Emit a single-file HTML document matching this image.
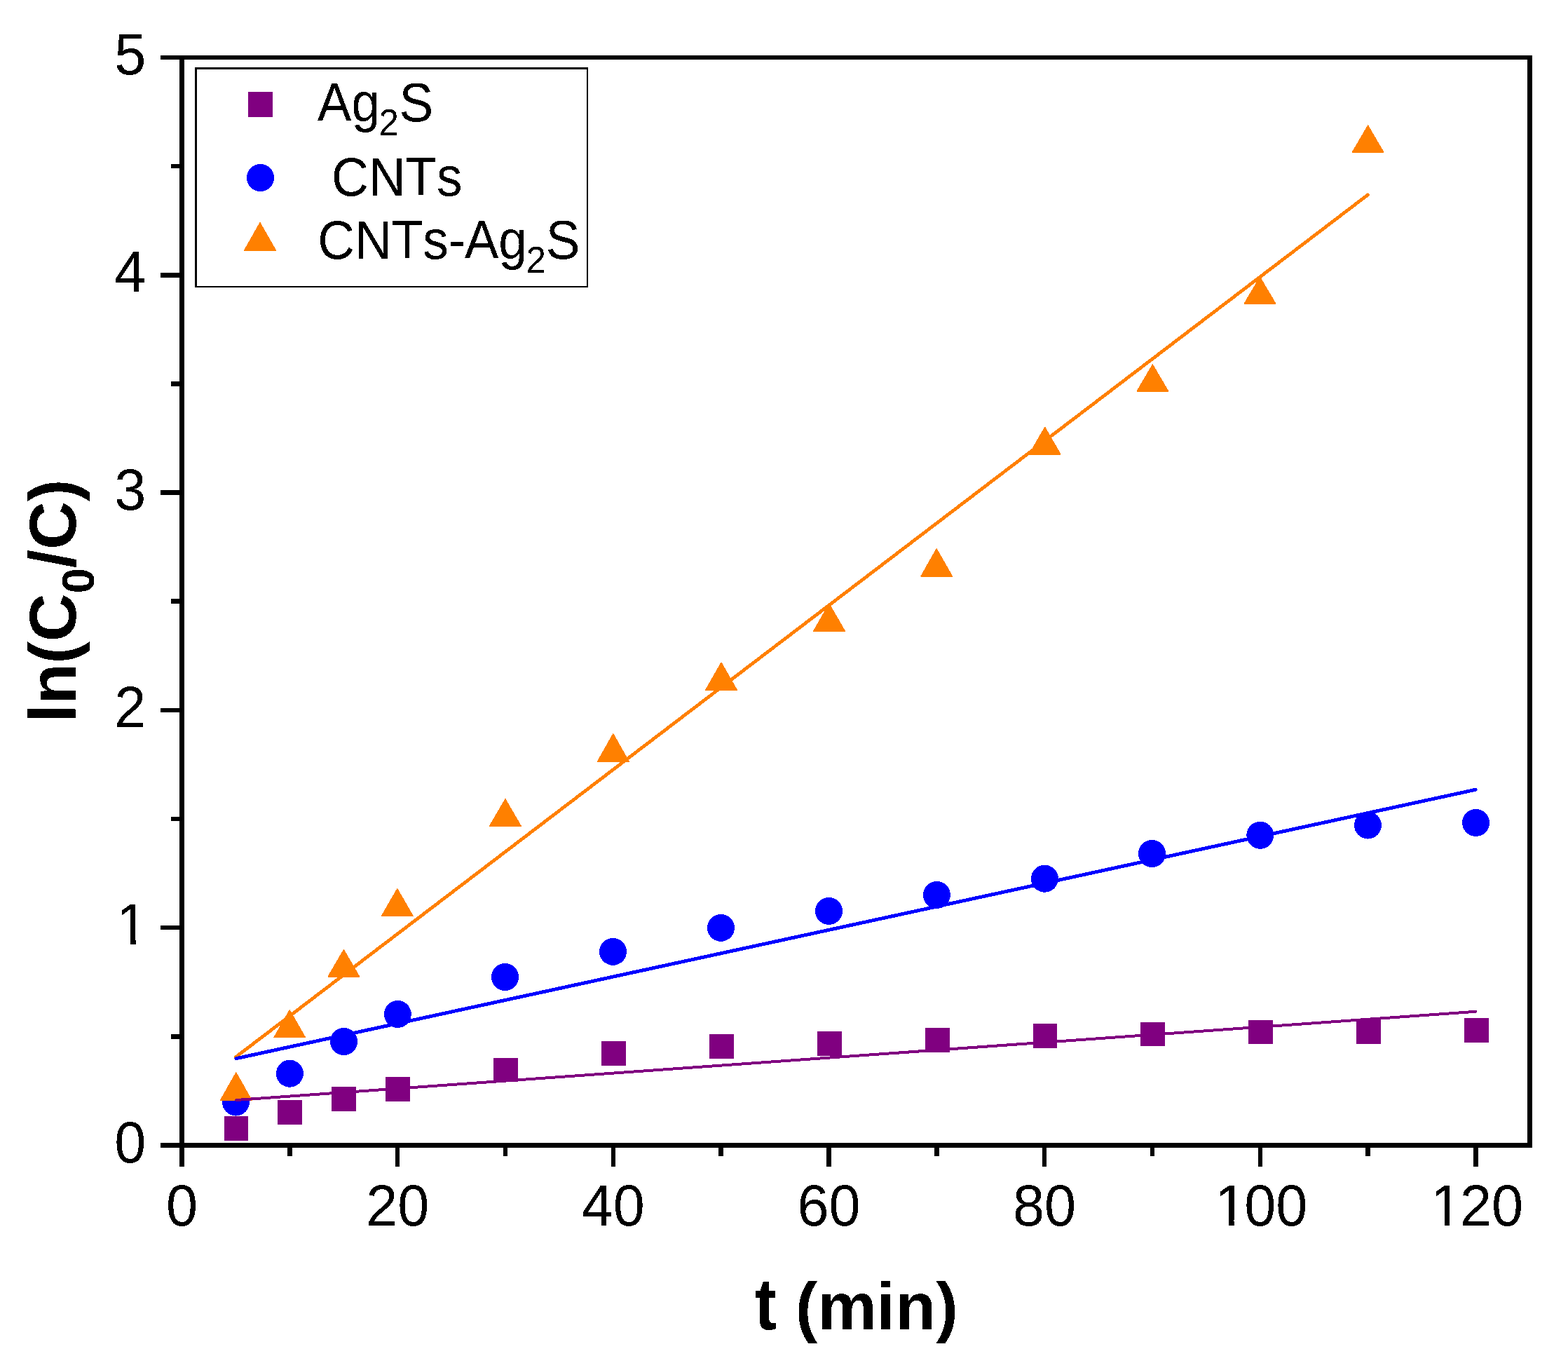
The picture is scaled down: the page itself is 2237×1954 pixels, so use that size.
<!DOCTYPE html>
<html><head><meta charset="utf-8"><title>ln(C0/C) vs t</title>
<style>html,body{margin:0;padding:0;background:#fff;}svg{display:block;}</style></head>
<body>
<svg width="2237" height="1954" viewBox="0 0 2237 1954">
<defs><filter id="bin" x="-5%" y="-5%" width="110%" height="110%" color-interpolation-filters="sRGB"><feComponentTransfer><feFuncA type="discrete" tableValues="0 1"/></feComponentTransfer></filter></defs>
<rect width="2237" height="1954" fill="#fff"/>
<g id="sq" fill="#800080" shape-rendering="crispEdges">
<rect x="319.7" y="1592.1" width="34.6" height="34.8"/>
<rect x="396.2" y="1569.2" width="34.6" height="34.8"/>
<rect x="473.1" y="1550.0" width="34.6" height="34.8"/>
<rect x="550.2" y="1536.0" width="34.6" height="34.8"/>
<rect x="704.2" y="1508.6" width="34.6" height="34.8"/>
<rect x="858.2" y="1484.9" width="34.6" height="34.8"/>
<rect x="1012.2" y="1475.4" width="34.6" height="34.8"/>
<rect x="1166.2" y="1471.0" width="34.6" height="34.8"/>
<rect x="1320.2" y="1465.8" width="34.6" height="34.8"/>
<rect x="1473.7" y="1459.9" width="34.6" height="34.8"/>
<rect x="1627.2" y="1457.6" width="34.6" height="34.8"/>
<rect x="1781.3" y="1454.6" width="34.6" height="34.8"/>
<rect x="1935.1" y="1453.9" width="34.6" height="34.8"/>
<rect x="2089.2" y="1452.0" width="34.6" height="34.8"/>
</g>
<g id="ci" fill="#0000FF" shape-rendering="crispEdges">
<circle cx="336.5" cy="1572.0" r="19.5"/>
<circle cx="413.4" cy="1531.2" r="19.5"/>
<circle cx="490.5" cy="1485.5" r="19.5"/>
<circle cx="567.3" cy="1446.5" r="19.5"/>
<circle cx="720.5" cy="1393.5" r="19.5"/>
<circle cx="874.5" cy="1357.3" r="19.5"/>
<circle cx="1028.5" cy="1323.3" r="19.5"/>
<circle cx="1182.5" cy="1299.4" r="19.5"/>
<circle cx="1336.4" cy="1276.4" r="19.5"/>
<circle cx="1490.4" cy="1253.2" r="19.5"/>
<circle cx="1643.5" cy="1217.5" r="19.5"/>
<circle cx="1797.8" cy="1191.3" r="19.5"/>
<circle cx="1951.5" cy="1177.0" r="19.5"/>
<circle cx="2105.6" cy="1173.4" r="19.5"/>
</g>
<g id="tr" fill="#FF8000" stroke="#FF8000" stroke-width="1.2" stroke-linejoin="round" shape-rendering="crispEdges">
<polygon points="336.8,1529.8 359.2,1569.3 314.4,1569.3"/>
<polygon points="413.2,1440.6 435.6,1479.8 390.8,1479.8"/>
<polygon points="490.4,1354.5 512.8,1393.0 468.0,1393.0"/>
<polygon points="566.8,1267.6 589.2,1306.4 544.4,1306.4"/>
<polygon points="720.9,1139.6 743.3,1178.1 698.5,1178.1"/>
<polygon points="874.8,1046.6 897.2,1086.1 852.4,1086.1"/>
<polygon points="1029.0,945.0 1051.4,984.2 1006.6,984.2"/>
<polygon points="1183.0,861.1 1205.4,900.2 1160.6,900.2"/>
<polygon points="1336.2,782.7 1358.6,822.0 1313.8,822.0"/>
<polygon points="1490.7,609.2 1513.1,648.1 1468.3,648.1"/>
<polygon points="1644.4,519.9 1666.8,558.1 1622.0,558.1"/>
<polygon points="1797.5,395.2 1819.9,433.1 1775.1,433.1"/>
<polygon points="1951.6,178.9 1974.0,217.2 1929.2,217.2"/>
</g>
<g fill="none" stroke-width="5" stroke-linecap="round" shape-rendering="crispEdges">
<line x1="336.6" y1="1507.5" x2="1951.4" y2="277.9" stroke="#FF8000" stroke-width="4.8"/>
<line x1="337" y1="1509.7" x2="2105" y2="1126.3" stroke="#0000FF"/>
<line x1="337" y1="1569" x2="2105" y2="1442.8" stroke="#800080" stroke-width="4"/>
</g>
<g fill="#000">
<rect x="256" y="79" width="7" height="1558"/>
<rect x="2179" y="79" width="7" height="1558"/>
<rect x="256" y="79" width="1930" height="6"/>
<rect x="256" y="1630" width="1930" height="7"/>
<rect x="229" y="1630" width="27" height="7"/>
<rect x="229" y="1320" width="27" height="6"/>
<rect x="229" y="1010" width="27" height="6"/>
<rect x="229" y="699" width="27" height="7"/>
<rect x="229" y="389" width="27" height="7"/>
<rect x="229" y="79" width="27" height="6"/>
<rect x="244" y="1475" width="12" height="7"/>
<rect x="244" y="1165" width="12" height="6"/>
<rect x="244" y="854" width="12" height="7"/>
<rect x="244" y="544" width="12" height="7"/>
<rect x="244" y="234" width="12" height="6"/>
<rect x="256" y="1637" width="7" height="27"/>
<rect x="564" y="1637" width="6" height="27"/>
<rect x="872" y="1637" width="6" height="27"/>
<rect x="1179" y="1637" width="7" height="27"/>
<rect x="1487" y="1637" width="6" height="27"/>
<rect x="1795" y="1637" width="6" height="27"/>
<rect x="2102" y="1637" width="7" height="27"/>
<rect x="410" y="1637" width="7" height="12"/>
<rect x="718" y="1637" width="6" height="12"/>
<rect x="1025" y="1637" width="7" height="12"/>
<rect x="1333" y="1637" width="7" height="12"/>
<rect x="1641" y="1637" width="6" height="12"/>
<rect x="1948" y="1637" width="7" height="12"/>
</g>
<g font-family="Liberation Sans, Arial, sans-serif" font-size="81" fill="#000" filter="url(#bin)">
<text transform="translate(208.2,1657.5) scale(1,1.04)" text-anchor="end">0</text>
<text transform="translate(210.9,1347.2) scale(1,1.04)" text-anchor="end" clip-path="url(#c1y)">1</text>
<text transform="translate(208.2,1036.9) scale(1,1.04)" text-anchor="end">2</text>
<text transform="translate(208.2,726.6) scale(1,1.04)" text-anchor="end">3</text>
<text transform="translate(208.2,416.3) scale(1,1.04)" text-anchor="end">4</text>
<text transform="translate(208.2,106.0) scale(1,1.04)" text-anchor="end">5</text>
<text transform="translate(259.5,1748) scale(1,1.04)" text-anchor="middle">0</text>
<text transform="translate(567.2,1748) scale(1,1.04)" text-anchor="middle">20</text>
<text transform="translate(874.8,1748) scale(1,1.04)" text-anchor="middle">40</text>
<text transform="translate(1182.5,1748) scale(1,1.04)" text-anchor="middle">60</text>
<text transform="translate(1490.1,1748) scale(1,1.04)" text-anchor="middle">80</text>
<text transform="translate(1797.8,1748) scale(1,1.04)" clip-path="url(#c1x100)"><tspan x="-64.87">1</tspan><tspan x="-22.52">00</tspan></text>
<text transform="translate(2105.5,1748) scale(1,1.04)" clip-path="url(#c1x120)"><tspan x="-64.87">1</tspan><tspan x="-22.52">20</tspan></text>
</g>
<defs><clipPath id="c1y"><rect x="-400" y="-400" width="800" height="393.05"/><rect x="-24.98" y="-50" width="7.76" height="120"/><rect x="-2.66" y="-50" width="400" height="120"/></clipPath><clipPath id="c1x100"><rect x="-400" y="-400" width="800" height="393.05"/><rect x="-44.80" y="-50" width="7.76" height="120"/><rect x="-22.48" y="-50" width="400" height="120"/></clipPath><clipPath id="c1x120"><rect x="-400" y="-400" width="800" height="393.05"/><rect x="-44.80" y="-50" width="7.76" height="120"/><rect x="-22.48" y="-50" width="400" height="120"/></clipPath></defs>
<g font-family="Liberation Sans, Arial, sans-serif" font-weight="bold" font-size="95" filter="url(#bin)"><text transform="translate(1076.6,1896.4) scale(1,1.097)">t</text><text x="1134.63" y="1896.4">(min)</text></g>
<text filter="url(#bin)" transform="translate(108,1031.1) rotate(-90)" font-family="Liberation Sans, Arial, sans-serif" font-weight="bold" font-size="95">ln(C<tspan font-size="65" dy="26.4">0</tspan><tspan dy="-26.4">/C)</tspan></text>
<g fill="#000">
<rect x="278" y="96" width="561" height="3"/>
<rect x="278" y="96" width="3" height="314"/>
<rect x="837" y="96" width="2" height="314"/>
<rect x="278" y="408" width="561" height="2"/>
</g>
<rect x="354" y="131" width="35" height="36" fill="#800080"/>
<circle cx="371.5" cy="253.4" r="19.6" fill="#0000FF" shape-rendering="crispEdges"/>
<polygon points="371,317.6 393.6,357.2 348.4,357.2" fill="#FF8000" stroke="#FF8000" stroke-width="1.2" stroke-linejoin="round" shape-rendering="crispEdges"/>
<g font-family="Liberation Sans, Arial, sans-serif" font-size="73" fill="#000" style="font-kerning:none" filter="url(#bin)">
<text transform="translate(452.76,172.80) scale(1,1.060)"><tspan x="0.00">Ag</tspan><tspan x="87.68" dy="18.87" font-size="51">2</tspan><tspan x="116.63" dy="-18.87">S</tspan></text>
<text transform="translate(472.99,278.80) scale(1,1.060)"><tspan x="0.00">CNTs</tspan></text>
<text transform="translate(453.29,369.20) scale(1,1.060)"><tspan x="0.00">CNTs-</tspan><tspan x="209.36">Ag</tspan><tspan x="297.14" dy="18.68" font-size="51">2</tspan><tspan x="325.59" dy="-18.68">S</tspan></text>
</g>
</svg>
</body></html>
